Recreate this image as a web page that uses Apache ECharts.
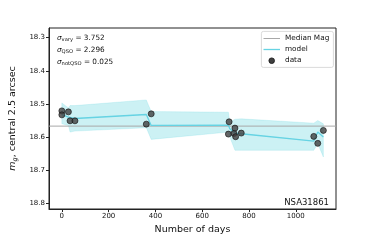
<!DOCTYPE html>
<html><head><meta charset="utf-8">
<script src="https://cdn.jsdelivr.net/npm/echarts@6/dist/echarts.min.js"></script>
<style>html,body{margin:0;padding:0;background:#fff}#c{width:374px;height:240px}</style>
</head><body><div id="c"></div>
<script>
// ---- data ----
var dataDays = [0, 0, 28, 35, 56, 361, 382, 712, 715, 736, 740, 743, 767, 1077, 1094, 1118];
var dataMag  = [18.521, 18.533, 18.524, 18.551, 18.551, 18.561, 18.530, 18.591, 18.554, 18.589, 18.573, 18.599, 18.588, 18.598, 18.619, 18.580];
var modelDays  = [0, 28, 35, 56, 361, 382, 712, 718, 740, 767, 1077, 1094, 1118];
var modelMag   = [18.532, 18.540, 18.545, 18.544, 18.532, 18.565, 18.564, 18.575, 18.588, 18.590, 18.612, 18.585, 18.600];
var modelUpper = [18.497, 18.512, 18.505, 18.505, 18.488, 18.523, 18.525, 18.555, 18.546, 18.545, 18.558, 18.550, 18.560];
var modelLower = [18.560, 18.565, 18.585, 18.582, 18.572, 18.607, 18.585, 18.600, 18.640, 18.640, 18.640, 18.620, 18.660];
var medianMag = 18.567;
var xTicks = [0, 200, 400, 600, 800, 1000];
var yTicks = [18.3, 18.4, 18.5, 18.6, 18.7, 18.8];
var sigmaVary = '3.752', sigmaQSO = '2.296', sigmaNotQSO = '0.025';
var objName = 'NSA31861';

var xMin = -55, xMax = 1172, yMin = 18.271, yMax = 18.817;

var chart = echarts.init(document.getElementById('c'), null, {renderer: 'canvas'});
var F = 'DejaVu Sans';
var scatterData = dataDays.map(function (d, i) { return [d, dataMag[i]]; });
var modelData = modelDays.map(function (d, i) { return [d, modelMag[i]]; });
var richSig = {
  s: {fontSize: 7.3, fontStyle: 'italic', fontFamily: F, fill: '#111'},
  b: {fontSize: 5.2, fontFamily: F, fill: '#111', padding: [3, 0, 0, 0]},
  t: {fontSize: 7.3, fontFamily: F, fill: '#111'}
};

chart.setOption({
  animation: false,
  textStyle: {fontFamily: F},
  grid: {left: 47, right: 38, top: 28, bottom: 27, show: true, borderColor: '#222', borderWidth: 1, backgroundColor: 'transparent'},
  xAxis: {
    type: 'value', min: xMin, max: xMax,
    name: 'Number of days', nameLocation: 'middle', nameGap: 16,
    nameTextStyle: {fontSize: 9.5, color: '#111', fontFamily: F},
    axisLine: {show: true, onZero: false, lineStyle: {color: '#222', width: 1}},
    axisTick: {show: true, length: 3, lineStyle: {color: '#222'}, customValues: xTicks},
    axisLabel: {fontSize: 7, color: '#111', margin: 4, customValues: xTicks, fontFamily: F,
      formatter: function (v) { return String(Math.round(v)); }},
    splitLine: {show: false}
  },
  yAxis: {
    type: 'value', min: yMin, max: yMax, inverse: true,
    name: '{i|m}{sub|g}{n|, central 2.5 arcsec}', nameLocation: 'middle', nameGap: 28, nameRotate: 90,
    nameTextStyle: {fontSize: 9.5, color: '#111', fontFamily: F, rich: {
      i: {fontSize: 9.5, fontStyle: 'italic', fontFamily: F, color: '#111'},
      sub: {fontSize: 6.5, fontStyle: 'italic', fontFamily: F, color: '#111', padding: [4, 0, 0, 0]},
      n: {fontSize: 9.5, fontFamily: F, color: '#111'}
    }},
    axisLine: {show: true, onZero: false, lineStyle: {color: '#222', width: 1}},
    axisTick: {show: true, length: 3, lineStyle: {color: '#222'}, customValues: yTicks},
    axisLabel: {fontSize: 7, color: '#111', margin: 4, customValues: yTicks, fontFamily: F,
      formatter: function (v) { return v.toFixed(1); }},
    splitLine: {show: false}
  },
  series: [
    {
      type: 'custom', name: 'band', z: 1, silent: true,
      data: [[modelDays[0], modelMag[0]]],
      renderItem: function (params, api) {
        var pts = [];
        for (var i = 0; i < modelDays.length; i++) pts.push(api.coord([modelDays[i], modelUpper[i]]));
        for (var j = modelDays.length - 1; j >= 0; j--) pts.push(api.coord([modelDays[j], modelLower[j]]));
        return {type: 'polygon', shape: {points: pts}, style: {fill: 'rgba(23,190,207,0.22)', stroke: 'rgba(23,190,207,0.25)', lineWidth: 0.5}};
      }
    },
    {
      type: 'line', name: 'Median Mag', z: 2, data: [[xMin, medianMag], [xMax, medianMag]],
      showSymbol: false, lineStyle: {color: '#a8a8a8', width: 1}, silent: true
    },
    {
      type: 'line', name: 'model', z: 3, data: modelData,
      showSymbol: false, lineStyle: {color: '#66d3e3', width: 1.3}, silent: true
    },
    {
      type: 'scatter', name: 'data', z: 4, data: scatterData, symbolSize: 6,
      itemStyle: {color: '#404040', borderColor: '#111', borderWidth: 0.8}
    }
  ],
  graphic: [
    {type: 'text', left: 57, top: 35, style: {rich: richSig, text: '{s|σ}{b|vary}{t| = ' + sigmaVary + '}'}},
    {type: 'text', left: 57, top: 47, style: {rich: richSig, text: '{s|σ}{b|QSO}{t| = ' + sigmaQSO + '}'}},
    {type: 'text', left: 57, top: 59, style: {rich: richSig, text: '{s|σ}{b|notQSO}{t| = ' + sigmaNotQSO + '}'}},
    {type: 'text', right: 45, top: 198, style: {text: objName, fontSize: 8.5, fontFamily: F, fill: '#111'}},
    // legend
    {type: 'rect', left: 261, top: 31, shape: {width: 72, height: 36, r: 2}, style: {fill: 'rgba(255,255,255,0.8)', stroke: '#d0d0d0', lineWidth: 0.8}},
    {type: 'line', shape: {x1: 263.5, y1: 38.5, x2: 280, y2: 38.5}, style: {stroke: '#a8a8a8', lineWidth: 1}},
    {type: 'text', left: 285, top: 34.5, style: {text: 'Median Mag', fontSize: 7.3, fontFamily: F, fill: '#111'}},
    {type: 'line', shape: {x1: 263.5, y1: 49.5, x2: 280, y2: 49.5}, style: {stroke: '#66d3e3', lineWidth: 1.3}},
    {type: 'text', left: 285, top: 45.5, style: {text: 'model', fontSize: 7.3, fontFamily: F, fill: '#111'}},
    {type: 'circle', shape: {cx: 271.7, cy: 60.7, r: 2.8}, style: {fill: '#404040', stroke: '#111', lineWidth: 0.8}},
    {type: 'text', left: 285, top: 56.5, style: {text: 'data', fontSize: 7.3, fontFamily: F, fill: '#111'}}
  ]
});
</script></body></html>
